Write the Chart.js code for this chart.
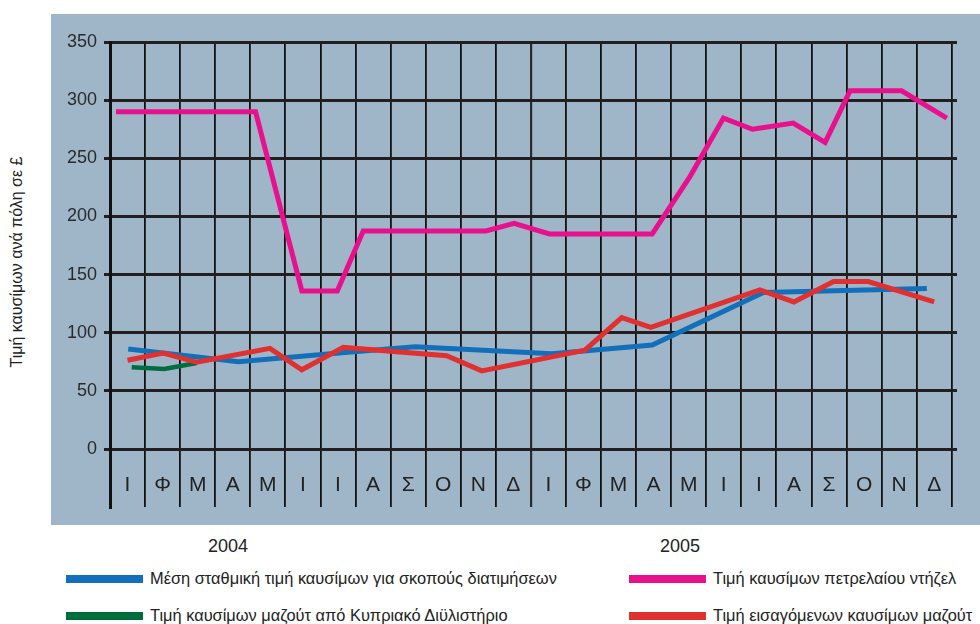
<!DOCTYPE html>
<html>
<head>
<meta charset="utf-8">
<script src="https://cdn.jsdelivr.net/npm/chart.js@4"></script>
<style>
  body { margin: 0; background: #fff; font-family: "Liberation Sans", Arial, sans-serif; color: #222; }
  #wrap { position: relative; width: 980px; height: 624px; }
  #panel { position: absolute; left: 51px; top: 14px; width: 929px; height: 511px; background: #9fb6c8; }
  .ytitle { position: absolute; left: 17px; top: 262px; transform: translate(-50%, -50%) rotate(-90deg); white-space: nowrap; font-size: 16px; }
  .year { position: absolute; top: 546px; transform: translate(-50%, -50%); font-size: 18px; }
  .leg { position: absolute; font-size: 16.4px; white-space: nowrap; }
  .leg span { display: inline-block; width: 77px; height: 8px; vertical-align: middle; margin-right: 7px; position: relative; top: -1px; }
</style>
</head>
<body>
<div id="wrap">
  <div id="panel"><canvas id="myChart" width="929" height="511"></canvas></div>
  <div class="ytitle">Τιμή καυσίμων ανά πόλη σε £</div>
  <div class="year" style="left:228px">2004</div>
  <div class="year" style="left:680px">2005</div>
  <div class="leg" style="left:66px; top:569px"><span style="background:#1170b9"></span>Μέση σταθμική τιμή καυσίμων για σκοπούς διατιμήσεων</div>
  <div class="leg" style="left:66px; top:606px"><span style="background:#006e3c"></span>Τιμή καυσίμων μαζούτ από Κυπριακό Διϋλιστήριο</div>
  <div class="leg" style="left:629px; top:569px"><span style="background:#e8108c"></span>Τιμή καυσίμων πετρελαίου ντήζελ</div>
  <div class="leg" style="left:629px; top:606px"><span style="background:#e03030"></span>Τιμή εισαγόμενων καυσίμων μαζούτ</div>
</div>
<script>
// month labels, two years (2004, 2005)
const months = ['Ι','Φ','Μ','Α','Μ','Ι','Ι','Α','Σ','Ο','Ν','Δ',
                'Ι','Φ','Μ','Α','Μ','Ι','Ι','Α','Σ','Ο','Ν','Δ']

// x = position in months from Jan 2004, y = price
const blueX = [0.52, 3.66, 6.7, 8.7, 12.6, 15.46, 18.63, 23.29]
const blueY = [86, 75, 83, 88, 82, 89.5, 134.6, 138]

const greenX = [0.62, 1.55, 2.47]
const greenY = [70.3, 68.8, 74]

const pinkX = [0.17, 4.15, 5.47, 6.48, 7.22, 10.72, 11.52, 12.53, 15.46, 16.54, 17.49, 18.32, 19.48, 20.39, 21.1, 22.57, 23.86]
const pinkY = [290, 290, 136, 136, 187.5, 187.5, 194, 185, 185, 234.5, 284.6, 275, 280.3, 263.7, 308, 308, 284.6]

const redX = [0.5, 1.52, 2.47, 4.56, 5.47, 6.65, 9.6, 10.6, 13.54, 14.59, 15.42, 18.53, 19.5, 20.63, 21.62, 23.5]
const redY = [76.3, 82.5, 74.6, 86.6, 68.2, 87.4, 80.2, 67.2, 85.1, 113.1, 104.6, 136.8, 126.5, 144, 144, 126.5]

const pts = (xs, ys) => xs.map((x, i) => ({x: x, y: ys[i]}))

const line = (label, xs, ys, color, order, w) => ({
    label: label,
    data: pts(xs, ys),
    borderColor: color,
    borderWidth: w,
    pointRadius: 0,
    tension: 0,
    borderJoinStyle: 'miter',
    fill: false,
    order: order
})

const XMAX = 24.15

const ctx = document.getElementById('myChart').getContext('2d');
const chart = new Chart(ctx, {
    type: 'line',
    data: {
        datasets: [
            line('Τιμή εισαγόμενων καυσίμων μαζούτ', redX, redY, '#e03030', 0, 5),
            line('Τιμή καυσίμων πετρελαίου ντήζελ', pinkX, pinkY, '#e8108c', 1, 5),
            line('Τιμή καυσίμων μαζούτ από Κυπριακό Διϋλιστήριο', greenX, greenY, '#006e3c', 2, 4.5),
            line('Μέση σταθμική τιμή καυσίμων για σκοπούς διατιμήσεων', blueX, blueY, '#1170b9', 3, 5)
        ]
    },
    options: {
        responsive: false,
        animation: false,
        devicePixelRatio: 1,
        layout: { padding: { left: 0, top: 28, right: 23, bottom: 16 } },
        plugins: { legend: { display: false }, tooltip: { enabled: false } },
        scales: {
            x: {
                type: 'linear',
                min: 0,
                max: XMAX,
                afterBuildTicks: scale => {
                    scale.ticks = months.concat(['']).map((m, i) => ({value: i}))
                },
                ticks: { display: false },
                border: { display: false },
                grid: {
                    drawTicks: false,
                    color: c => c.tick && c.tick.value === 12 ? '#2a2a2a' : '#111',
                    lineWidth: c => c.tick && c.tick.value === 12 ? 2.2 : 1.8
                }
            },
            xm: {
                type: 'linear',
                position: { y: 0 },
                min: 0,
                max: XMAX,
                afterBuildTicks: scale => {
                    scale.ticks = months.map((m, i) => ({value: i + 0.5}))
                },
                ticks: {
                    autoSkip: false,
                    maxRotation: 0,
                    padding: 24,
                    color: '#222',
                    font: { family: 'Liberation Sans', size: 21 },
                    callback: (v, i) => months[i]
                },
                border: { display: false },
                grid: { display: false, drawTicks: false }
            },
            y: {
                min: -50,
                max: 350,
                afterFit: scale => { scale.width = 59 },
                ticks: {
                    stepSize: 50,
                    padding: 7,
                    color: '#2a2a2a',
                    font: { family: 'Liberation Sans', size: 18 },
                    callback: v => v >= 0 ? v : ''
                },
                border: { color: '#111', width: 3 },
                grid: {
                    tickLength: 6,
                    color: c => c.tick && c.tick.value >= 0 ? '#231f20' : 'rgba(0,0,0,0)',
                    lineWidth: 3
                }
            }
        }
    }
});
</script>
</body>
</html>
